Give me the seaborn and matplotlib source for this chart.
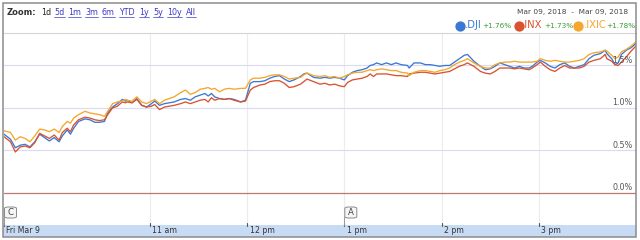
import numpy as np
import pandas as pd
import matplotlib
matplotlib.use("Agg")
import matplotlib.pyplot as plt
import seaborn as sns
from matplotlib.lines import Line2D
from matplotlib.patches import Rectangle, FancyBboxPatch
import matplotlib.transforms as mtransforms

# ---------------- data ----------------
minutes = [0, 4, 7, 10, 13, 16, 19, 22, 25, 28, 31, 34, 36, 39, 41, 43, 46, 50, 53, 56,
           59, 62, 64, 67, 70, 73, 75, 76, 79, 82, 85, 88, 91, 93, 96, 99, 102, 105, 109, 112,
           115, 118, 121, 124, 126, 128, 130, 133, 136, 139, 142, 146, 149, 152, 154, 158, 161, 164, 167, 170,
           173, 176, 179, 183, 185, 187, 191, 195, 198, 201, 204, 207, 210, 212, 215, 218, 221, 224, 226, 228,
           230, 233, 236, 239, 242, 245, 249, 250, 253, 257, 260, 263, 266, 269, 272, 275, 278, 281, 284, 286,
           290, 294, 297, 300, 303, 306, 309, 312, 315, 318, 321, 324, 326, 329, 331, 334, 337, 340, 343, 346,
           349, 352, 355, 358, 361, 364, 368, 371, 372, 375, 377, 379, 381, 384, 387, 390]

dji = [0.69, 0.63, 0.53, 0.56, 0.57, 0.54, 0.60, 0.69, 0.65, 0.61, 0.65, 0.60, 0.67, 0.74, 0.69, 0.76, 0.84, 0.87, 0.86, 0.83,
       0.83, 0.84, 0.94, 1.01, 1.05, 1.10, 1.08, 1.09, 1.06, 1.11, 1.03, 1.01, 1.05, 1.08, 1.03, 1.05, 1.06, 1.07, 1.10, 1.11,
       1.09, 1.13, 1.15, 1.17, 1.14, 1.17, 1.13, 1.11, 1.10, 1.11, 1.10, 1.07, 1.09, 1.29, 1.31, 1.31, 1.32, 1.35, 1.37, 1.38,
       1.34, 1.31, 1.33, 1.37, 1.40, 1.41, 1.36, 1.35, 1.36, 1.35, 1.36, 1.35, 1.33, 1.38, 1.42, 1.44, 1.45, 1.47, 1.50, 1.51,
       1.53, 1.51, 1.53, 1.51, 1.53, 1.51, 1.50, 1.47, 1.53, 1.53, 1.51, 1.51, 1.50, 1.49, 1.50, 1.50, 1.54, 1.58, 1.62, 1.63,
       1.55, 1.49, 1.45, 1.46, 1.49, 1.53, 1.51, 1.49, 1.47, 1.49, 1.47, 1.47, 1.49, 1.54, 1.56, 1.53, 1.49, 1.47, 1.51, 1.53,
       1.49, 1.47, 1.49, 1.51, 1.58, 1.62, 1.64, 1.68, 1.64, 1.58, 1.51, 1.53, 1.63, 1.68, 1.71, 1.76]

inx = [0.66, 0.60, 0.48, 0.54, 0.55, 0.53, 0.59, 0.70, 0.67, 0.64, 0.68, 0.62, 0.71, 0.76, 0.72, 0.80, 0.86, 0.89, 0.88, 0.86,
       0.85, 0.86, 0.92, 1.00, 1.02, 1.07, 1.06, 1.07, 1.06, 1.10, 1.03, 1.01, 1.02, 1.04, 0.98, 1.01, 1.02, 1.03, 1.05, 1.07,
       1.05, 1.07, 1.09, 1.10, 1.07, 1.12, 1.09, 1.11, 1.10, 1.11, 1.09, 1.07, 1.08, 1.21, 1.24, 1.27, 1.28, 1.31, 1.32, 1.32,
       1.29, 1.24, 1.25, 1.28, 1.31, 1.34, 1.31, 1.28, 1.29, 1.27, 1.28, 1.26, 1.25, 1.30, 1.33, 1.34, 1.35, 1.37, 1.40, 1.37,
       1.40, 1.40, 1.40, 1.39, 1.38, 1.38, 1.37, 1.40, 1.41, 1.42, 1.42, 1.41, 1.40, 1.41, 1.42, 1.43, 1.46, 1.49, 1.51, 1.53,
       1.49, 1.43, 1.41, 1.40, 1.43, 1.47, 1.47, 1.47, 1.46, 1.47, 1.46, 1.45, 1.47, 1.51, 1.54, 1.49, 1.45, 1.43, 1.47, 1.50,
       1.47, 1.47, 1.47, 1.49, 1.54, 1.56, 1.58, 1.63, 1.58, 1.55, 1.51, 1.50, 1.54, 1.60, 1.67, 1.73]

ixic = [0.73, 0.71, 0.62, 0.66, 0.64, 0.60, 0.67, 0.75, 0.74, 0.72, 0.75, 0.71, 0.78, 0.84, 0.82, 0.88, 0.92, 0.96, 0.94, 0.93,
        0.92, 0.90, 0.96, 1.05, 1.07, 1.08, 1.10, 1.09, 1.08, 1.13, 1.07, 1.05, 1.08, 1.10, 1.05, 1.09, 1.11, 1.13, 1.18, 1.21,
        1.16, 1.18, 1.22, 1.23, 1.24, 1.22, 1.23, 1.19, 1.22, 1.23, 1.22, 1.23, 1.23, 1.33, 1.35, 1.35, 1.36, 1.38, 1.39, 1.39,
        1.37, 1.34, 1.35, 1.36, 1.39, 1.41, 1.38, 1.37, 1.38, 1.36, 1.37, 1.35, 1.37, 1.39, 1.41, 1.42, 1.42, 1.44, 1.45, 1.44,
        1.45, 1.46, 1.45, 1.44, 1.44, 1.42, 1.41, 1.38, 1.42, 1.44, 1.44, 1.43, 1.42, 1.44, 1.45, 1.47, 1.51, 1.54, 1.56, 1.58,
        1.53, 1.49, 1.47, 1.47, 1.51, 1.53, 1.54, 1.54, 1.55, 1.54, 1.54, 1.54, 1.54, 1.55, 1.58, 1.56, 1.55, 1.56, 1.55, 1.54,
        1.54, 1.55, 1.56, 1.58, 1.63, 1.65, 1.66, 1.68, 1.67, 1.62, 1.58, 1.60, 1.66, 1.69, 1.73, 1.78]

symbols = [".DJI", ".INX", ".IXIC"]
changes = ["+1.76%", "+1.73%", "+1.78%"]
colors = ["#3a78d6", "#d9532f", "#f5a62c"]

tick_minutes = [0, 90, 150, 210, 270, 330]
tick_labels = ["Fri Mar 9", "11 am", "12 pm", "1 pm", "2 pm", "3 pm"]
y_ticks = [0.0, 0.5, 1.0, 1.5]
y_labels = ["0.0%", "0.5%", "1.0%", "1.5%"]
zoom_links = ["1d", "5d", "1m", "3m", "6m", "YTD", "1y", "5y", "10y", "All"]
date_range = "Mar 09, 2018  -  Mar 09, 2018"
flags = [("C", 0), ("A", 210)]

df = pd.DataFrame({
    "minute": minutes * 3,
    "pct": dji + inx + ixic,
    "symbol": [symbols[0]] * len(dji) + [symbols[1]] * len(inx) + [symbols[2]] * len(ixic),
})

# ---------------- figure ----------------
sns.set_theme(style="white")
plt.rcParams["font.family"] = ["DejaVu Sans"]
W, H = 640, 240
fig = plt.figure(figsize=(6.4, 2.4), dpi=100)
fig.patch.set_facecolor("white")


def fx(x):
    return x / W


def fy(y):
    return 1 - y / H


ax = fig.add_axes([fx(4), fy(225), fx(636) - fx(4), fy(33) - fy(225)])
ax.set_facecolor("white")

# grid
for m in tick_minutes[1:]:
    ax.axvline(m, color="#ececec", lw=0.8, zorder=0)
for v in y_ticks[1:]:
    ax.axhline(v, color="#dadaf0", lw=0.8, zorder=0)
ax.axhline(0.0, color="#b97b70", lw=0.9, zorder=1)

sns.lineplot(data=df, x="minute", y="pct", hue="symbol", hue_order=symbols,
             palette=colors, ax=ax, legend=False, linewidth=0.95, zorder=3)

ax.set_xlim(0, 390)
ax.set_ylim(-0.381, 1.883)
ax.set_xticks([])
ax.set_yticks([])
ax.set_xlabel("")
ax.set_ylabel("")
for s in ["left", "right", "bottom"]:
    ax.spines[s].set_visible(False)
ax.spines["top"].set_color("#d4d4d4")
ax.spines["top"].set_linewidth(0.8)

# y labels (right side, above grid lines)
ytr = mtransforms.blended_transform_factory(ax.transAxes, ax.transData)
for v, lab in zip(y_ticks, y_labels):
    ax.text(0.995, v + 0.005, lab, transform=ytr, ha="right", va="bottom",
            fontsize=5.8, color="#555555", zorder=4)

# bottom band
fig.add_artist(Rectangle((fx(3), fy(236.5)), fx(636) - fx(3), (236.5 - 225) / H,
                         transform=fig.transFigure, facecolor="#c7dbf4", edgecolor="none", zorder=0))
xtr = ax.get_xaxis_transform()
off = mtransforms.ScaledTranslation(2.5 / 100, 0, fig.dpi_scale_trans)
for m, lab in zip(tick_minutes, tick_labels):
    ax.text(m, -0.029, lab, transform=xtr + off, ha="left", va="center",
            fontsize=5.6, color="#333333", clip_on=False)
    ax.plot([m, m], [-0.005, 0.012], transform=xtr, color="#555555", lw=0.8, clip_on=False)

# flags
for letter, m in flags:
    ax.plot([m, m], [0.0, 0.04], transform=xtr, color="#999999", lw=0.7, clip_on=False)
    xp = ax.transData.transform((m, 0))[0]
    x0 = (xp + 0.5) / W
    box = FancyBboxPatch((x0, fy(218)), 12 / W, 11 / H,
                         boxstyle="round,pad=0,rounding_size=0.006",
                         transform=fig.transFigure, facecolor="#f6f6f6",
                         edgecolor="#8a8a8a", lw=0.7, zorder=5)
    fig.add_artist(box)
    fig.text(x0 + 6 / W, fy(212.3), letter, ha="center", va="center",
             fontsize=6.2, color="#444444", zorder=6)

# header
fig.text(fx(7), fy(12.5), "Zoom:", fontsize=6, fontweight="bold", color="#333333",
         ha="left", va="center")
link_x = [40.7, 54.3, 68.3, 85.3, 102, 118.7, 139.3, 153.3, 167, 185.7]
link_texts = []
for i, (lab, lx) in enumerate(zip(zoom_links, link_x)):
    col = "#222222" if i == 0 else "#3b3bc8"
    t = fig.text(fx(lx), fy(12.5), lab, fontsize=5.8, color=col, ha="left", va="center")
    if i > 0:
        link_texts.append(t)

fig.text(fx(628), fy(12), date_range, fontsize=5.3, color="#444444", ha="right", va="center")

leg_dot_x = [460, 519, 578]
leg_name_x = [465, 522, 584]
leg_chg_x = [482, 544, 606]
for c, name, chg, dx, nx, cx in zip(colors, symbols, changes, leg_dot_x, leg_name_x, leg_chg_x):
    fig.add_artist(Line2D([fx(dx)], [fy(25.5)], marker="o", markersize=6.4,
                          color=c, transform=fig.transFigure, linestyle="none"))
    fig.text(fx(nx), fy(24.8), name, fontsize=7.2, color=c, ha="left", va="center")
    fig.text(fx(cx), fy(26.5), chg, fontsize=5.2, color="#3a9a3a", ha="left", va="center")

# outer border
fig.add_artist(Rectangle((fx(2.5), fy(237)), fx(636) - fx(2.5), (237 - 2.5) / H,
                         transform=fig.transFigure, facecolor="none",
                         edgecolor="#8c8c8c", lw=1.1, zorder=10))

# underline links
fig.canvas.draw()
r = fig.canvas.get_renderer()
for t in link_texts:
    bb = t.get_window_extent(renderer=r)
    yb = bb.y0 + 0.5
    fig.add_artist(Line2D([bb.x0 / W, bb.x1 / W], [yb / H, yb / H], color="#3b3bc8",
                          lw=0.5, transform=fig.transFigure))

fig.savefig("out.png", dpi=100, facecolor="white")
